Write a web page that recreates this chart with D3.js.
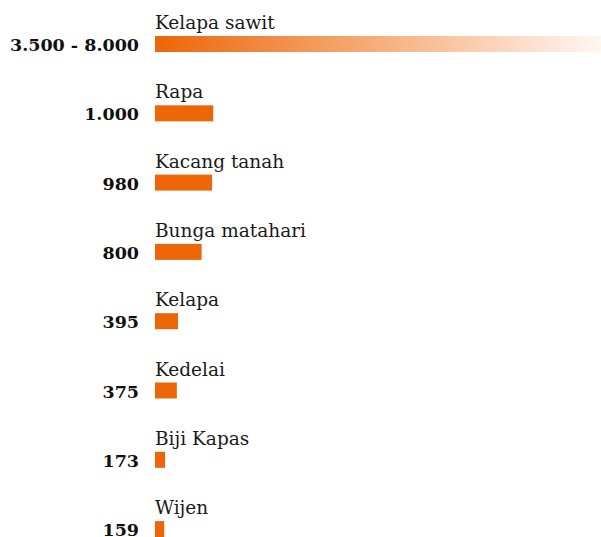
<!DOCTYPE html>
<html>
<head>
<meta charset="utf-8">
<script src="https://cdn.jsdelivr.net/npm/d3@7"></script>
<style>
  body { margin: 0; background: #fff; }
  svg text { font-family: "DejaVu Serif", serif; }
</style>
</head>
<body>
<svg id="chart" width="601" height="537"></svg>
<script>
// minyak nabati: hasil per hektar
const crops = ["Kelapa sawit", "Rapa", "Kacang tanah", "Bunga matahari", "Kelapa", "Kedelai", "Biji Kapas", "Wijen"];
const lowVals = [3500, 1000, 980, 800, 395, 375, 173, 159];
const highVals = [8000, 1000, 980, 800, 395, 375, 173, 159];
const valueLabels = ["3.500 - 8.000", "1.000", "980", "800", "395", "375", "173", "159"];

const rows = crops.map((c, i) => ({ name: c, lo: lowVals[i], hi: highVals[i], label: valueLabels[i] }));

const svg = d3.select("#chart");
const left = 155;

const x = d3.scaleLinear().domain([0, 8000]).range([0, 466]);
const y = d3.scaleBand().domain(crops).range([36, 36 + 69.3 * crops.length]).paddingInner(0);
const barH = 16;

const defs = svg.append("defs");
const grad = defs.append("linearGradient")
  .attr("id", "fade")
  .attr("gradientUnits", "userSpaceOnUse")
  .attr("x1", left).attr("x2", 601).attr("y1", 0).attr("y2", 0);
grad.append("stop").attr("offset", 0).attr("stop-color", "#ec6608").attr("stop-opacity", 1);
grad.append("stop").attr("offset", 1).attr("stop-color", "#ec6608").attr("stop-opacity", 0.05);

const g = svg.selectAll("g.row")
  .data(rows)
  .join("g")
  .attr("class", "row")
  .attr("transform", d => `translate(0,${y(d.name)})`);

g.append("rect")
  .attr("x", left)
  .attr("y", 0)
  .attr("width", d => x(d.hi))
  .attr("height", barH)
  .attr("fill", d => d.hi > d.lo ? "url(#fade)" : "#ec6608");

g.append("text")
  .attr("x", left)
  .attr("y", -7)
  .attr("font-size", 18.5)
  .attr("fill", "#1a1a1a")
  .text(d => d.name);

g.append("text")
  .attr("x", 139)
  .attr("y", 15)
  .attr("text-anchor", "end")
  .attr("font-size", 17.5)
  .attr("font-weight", "bold")
  .attr("fill", "#111")
  .text(d => d.label);
</script>
</body>
</html>
